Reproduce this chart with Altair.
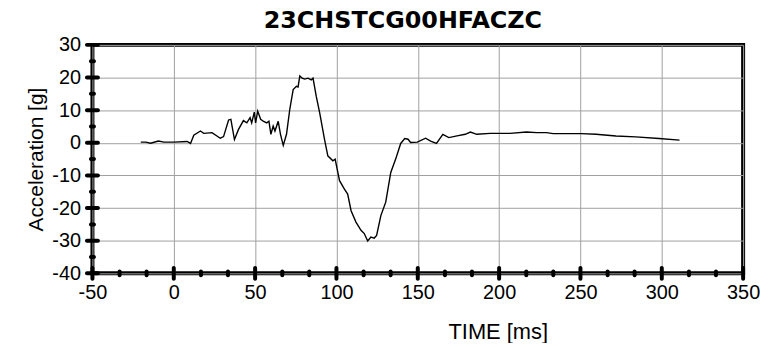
import altair as alt
import pandas as pd

# ---- data ----
time_ms = [-20.3, -17.2, -14.2, -9.5, -6.0, 0.0, 8.2, 10.3, 12.3, 16.4, 18.4, 23.5, 28.6, 30.6,
           33.7, 35.1, 37.3, 39.8, 42.8, 44.9, 46.9, 47.9, 49.5, 50.3, 51.6, 53.4, 55.0, 57.1,
           58.5, 59.7, 61.1, 62.2, 64.2, 65.6, 67.3, 69.3, 71.3, 73.4, 75.4, 76.4, 77.5, 78.9,
           80.5, 82.5, 84.5, 85.6, 87.6, 89.7, 92.7, 94.7, 97.8, 99.2, 101.9, 104.9, 106.9,
           109.0, 112.0, 115.1, 117.1, 119.2, 121.2, 123.2, 124.7, 127.3, 130.3, 133.4, 136.4,
           139.5, 142.0, 144.0, 145.6, 149.7, 154.8, 157.9, 161.5, 165.4, 169.1, 174.1, 179.2,
           182.3, 186.3, 194.5, 206.7, 216.9, 223.0, 229.1, 233.2, 250.5, 259.6, 271.8, 284.0,
           298.3, 310.9]
accel_g = [0.2, 0.2, -0.15, 0.55, 0.2, 0.2, 0.4, -0.2, 2.3, 3.6, 2.9, 3.1, 1.4, 1.9,
           7.0, 7.2, 1.0, 4.1, 6.8, 6.1, 7.7, 6.1, 9.4, 6.1, 9.7, 7.2, 6.6, 6.1,
           6.6, 2.6, 5.1, 3.6, 6.6, 2.6, -0.8, 2.6, 10.2, 16.3, 17.3, 17.1, 20.5, 19.8,
           19.5, 19.8, 19.3, 19.8, 14.2, 9.2, 1.0, -4.0, -5.5, -5.0, -11.6, -14.2, -15.7,
           -20.8, -24.3, -26.8, -27.8, -30.1, -28.9, -29.2, -28.4, -22.3, -18.2, -9.1, -5.0,
           -0.2, 1.3, 1.1, 0.1, 0.2, 1.4, 0.5, -0.2, 2.6, 1.6, 2.1, 2.6,
           3.3, 2.6, 2.9, 2.9, 3.3, 3.1, 3.1, 2.8, 2.8, 2.6, 2.1, 1.8,
           1.3, 0.8]

x_major = [-50, 0, 50, 100, 150, 200, 250, 300, 350]
x_minor = [-33.3, -16.7, 16.7, 33.3, 66.7, 83.3, 116.7, 133.3, 166.7, 183.3,
           216.7, 233.3, 266.7, 283.3, 316.7, 333.3]
y_major = [-40, -30, -20, -10, 0, 10, 20, 30]
y_minor = [-35, -25, -15, -5, 5, 15, 25]

title_text = "23CHSTCG00HFACZC"
x_title = "TIME [ms]"
y_title = "Acceleration [g]"

df = pd.DataFrame({"t": time_ms, "a": accel_g})
df_xmaj = pd.DataFrame({"v": x_major})
df_xmin = pd.DataFrame({"v": x_minor})
df_ymaj = pd.DataFrame({"v": y_major})
df_ymin = pd.DataFrame({"v": y_minor})

xscale = alt.Scale(domain=[-50, 350], nice=False, zero=False)
yscale = alt.Scale(domain=[-40, 30], nice=False, zero=False)

FONT = "Liberation Sans"
GRID = "#a0a0a0"

x_axis = alt.Axis(
    values=x_major, grid=True, gridColor=GRID, gridWidth=1,
    domain=False, ticks=True, tickSize=7, tickOpacity=0, labelPadding=2,
    labelFlush=False, labelExpr="'' + datum.value",
    labelFont=FONT, labelFontSize=20, labelColor="black",
    titleFont=FONT, titleFontSize=22, titleFontWeight="normal", titleColor="black",
    titleX=408, titleY=49, titleBaseline="top", titleAlign="center")
y_axis = alt.Axis(
    values=y_major, grid=True, gridColor=GRID, gridWidth=1,
    domain=False, ticks=True, tickSize=8, tickOpacity=0, labelPadding=4,
    labelFlush=False, labelExpr="'' + datum.value",
    labelFont=FONT, labelFontSize=20, labelColor="black",
    titleFont=FONT, titleFontSize=21, titleFontWeight="normal", titleColor="black",
    titleX=-56, titleY=115, titleBaseline="middle", titleAlign="center", titleAngle=-90)

line = alt.Chart(df).mark_line(color="black", strokeWidth=1.4).encode(
    x=alt.X("t:Q", scale=xscale, axis=x_axis, title=x_title),
    y=alt.Y("a:Q", scale=yscale, axis=y_axis, title=y_title),
)

def tick_layer(frame, orient, length, horizontal_axis):
    mark = alt.Chart(frame).mark_tick(orient=orient, size=length, thickness=4, color="black",
                                      cornerRadius=2, opacity=1)
    if horizontal_axis:
        return mark.encode(x=alt.X("v:Q", scale=xscale, axis=x_axis, title=x_title),
                           y=alt.YDatum(-40, scale=yscale, axis=y_axis, title=y_title))
    return mark.encode(y=alt.Y("v:Q", scale=yscale, axis=y_axis, title=y_title),
                       x=alt.XDatum(-50, scale=xscale, axis=x_axis, title=x_title))

xmaj = tick_layer(df_xmaj, "vertical", 15, True)
xmin = tick_layer(df_xmin, "vertical", 8, True)
ymaj = tick_layer(df_ymaj, "horizontal", 15, False)
ymin = tick_layer(df_ymin, "horizontal", 7, False)

chart = alt.layer(line, xmaj, xmin, ymaj, ymin).properties(
    width=655, height=230,
    autosize=alt.AutoSizeParams(type="none"),
    padding={"left": 85, "top": 36, "right": 18, "bottom": 69},
    title=alt.TitleParams(title_text, font="DejaVu Sans", fontSize=24, fontWeight="bold",
                          color="black", anchor="middle", frame="group", dx=-15, dy=17,
                          baseline="alphabetic", offset=0),
).configure_view(stroke="black", strokeWidth=4)

chart.save("out.html", embed_options={"renderer": "svg", "actions": False})
